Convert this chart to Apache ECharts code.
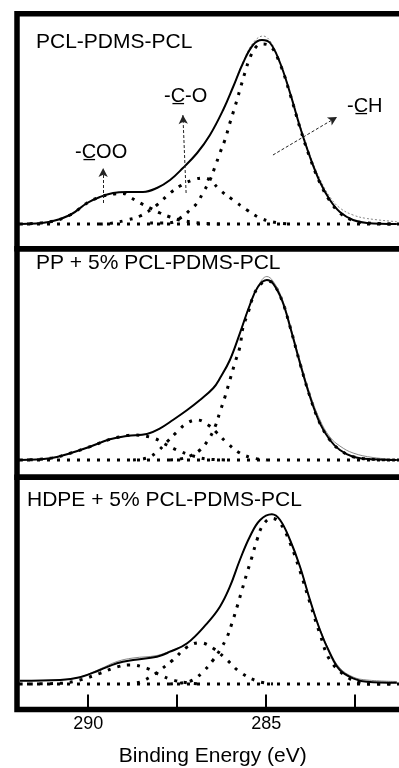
<!DOCTYPE html>
<html>
<head>
<meta charset="utf-8">
<script src="https://cdn.jsdelivr.net/npm/echarts@6/dist/echarts.min.js"></script>
<style>
html,body{margin:0;padding:0;background:#fff;}
#chart{width:399px;height:768px;}
</style>
</head>
<body>
<div id="chart"></div>
<script>
// ---- Data: [binding energy (eV), intensity (a.u.)] ----
// Panel 1: PCL-PDMS-PCL
var pclEnvelope = [[291.92,0],[291.07,2.3],[290.51,9],[290.03,21],[289.67,27],[289.30,31],[288.91,32],[288.46,32],[288.07,36],[287.70,44],[287.34,56],[286.94,71],[286.58,89],[286.21,114],[285.93,137],[285.65,161],[285.37,179],[285.12,184],[284.89,181],[284.61,161],[284.33,131],[284.05,97],[283.77,67],[283.49,42],[283.21,24],[282.93,12],[282.56,4],[282.17,1],[281.33,0]];
var pclMeasured = [[291.92,0],[291.07,2.3],[290.51,9],[290.03,21],[289.67,27],[289.30,31],[288.91,32],[288.46,32],[288.07,36],[287.70,44],[287.34,56],[286.94,71],[286.58,89],[286.21,114],[285.93,137],[285.65,162],[285.37,181],[285.09,188],[284.89,183],[284.61,162],[284.33,132],[284.05,99],[283.77,69],[283.49,45],[283.21,27],[282.93,16],[282.56,9],[282.17,5.5],[281.33,2.3]];
var pclCH = [[288.26,1],[287.70,1.3],[287.37,7],[287.14,14],[286.94,21],[286.78,31],[286.58,44],[286.44,57],[286.30,71],[286.16,84],[286.02,101],[285.88,117],[285.74,134],[285.60,151],[285.46,166],[285.31,176],[285.15,180],[284.89,178],[284.61,160],[284.33,130],[284.05,96],[283.77,66],[283.49,41],[283.21,23],[282.93,11],[282.56,3.5],[282.17,1],[281.33,0]];
var pclCO = [[289.67,0],[289.30,1],[288.91,4],[288.54,8],[288.07,19],[287.70,31],[287.37,39],[287.06,44],[286.78,46],[286.58,44],[286.30,34],[285.93,24],[285.54,14],[285.17,6],[284.81,2],[284.33,0]];
var pclCOO = [[291.92,0],[291.07,2.3],[290.51,9],[290.03,21],[289.67,27],[289.30,30],[289.02,30.5],[288.83,27],[288.54,21],[288.26,16],[287.98,11],[287.70,7],[287.42,4],[286.86,1],[286.30,0]];

// Panel 2: PP + 5% PCL-PDMS-PCL
var ppEnvelope = [[291.92,0],[291.07,1.7],[290.51,6.7],[289.95,13.3],[289.39,20.7],[288.91,24],[288.35,26],[287.98,31.7],[287.62,40],[287.22,50],[286.86,60],[286.49,71.7],[286.30,81.7],[286.02,100],[285.74,126.7],[285.46,155],[285.23,173.3],[284.98,180],[284.81,176.7],[284.56,160],[284.33,133.3],[284.05,96.7],[283.77,63.3],[283.49,36.7],[283.21,20],[282.93,10],[282.56,3.3],[282.00,0.7],[281.33,0]];
var ppMeasured = [[291.92,0],[291.07,1.7],[290.51,6.7],[289.95,13.3],[289.39,20.7],[288.91,24],[288.35,26],[287.98,31.7],[287.62,40],[287.22,50],[286.86,60],[286.49,71.7],[286.30,81.7],[286.02,100],[285.74,126.7],[285.46,155],[285.23,174],[284.98,183.5],[284.81,179],[284.56,162],[284.33,135],[284.05,99],[283.77,66],[283.49,40],[283.21,23],[282.93,14],[282.56,7],[282.00,2.5],[281.33,0.5]];
var ppCH = [[287.70,0],[287.42,1],[287.14,4],[286.86,10],[286.63,20],[286.44,33],[286.30,48],[286.16,63],[286.02,80],[285.88,97],[285.74,113],[285.65,133],[285.51,147],[285.37,163],[285.20,174],[284.98,179],[284.81,176.7],[284.56,160],[284.33,133.3],[284.05,96.7],[283.77,63.3],[283.49,36.7],[283.21,20],[282.93,10],[282.56,3.3],[282.00,0.7],[281.33,0]];
var ppCO = [[288.74,0],[288.35,2],[288.07,8],[287.79,18],[287.51,28],[287.22,37],[286.94,40],[286.63,35],[286.38,27],[286.10,17],[285.74,7],[285.37,2],[284.98,0]];
var ppCOO = [[291.92,0],[291.07,1.7],[290.51,6.7],[289.95,13.3],[289.39,20.7],[288.91,24.5],[288.74,25],[288.18,22],[287.79,15],[287.51,10],[287.14,5],[286.66,1],[286.00,0]];

// Panel 3: HDPE + 5% PCL-PDMS-PCL
var hdpeEnvelope = [[291.92,3.3],[290.79,4],[290.23,6.7],[289.67,14],[289.19,20.7],[288.74,24],[288.07,27.3],[287.70,32.3],[287.22,40.7],[286.66,60.7],[286.30,77.3],[286.02,97.3],[285.74,124],[285.46,147.3],[285.17,164],[284.84,169.7],[284.61,164],[284.33,144],[284.05,117.3],[283.77,84],[283.49,54],[283.21,30.7],[282.93,14],[282.56,5.7],[282.17,2.3],[281.33,1.3]];
var hdpeMeasured = [[291.92,3.3],[290.79,4],[290.23,7],[289.67,15],[289.19,22.5],[288.74,26],[288.07,28.5],[287.70,33],[287.22,40.7],[286.66,60.7],[286.30,77.3],[286.02,97.3],[285.74,124],[285.46,147.3],[285.17,164],[284.84,169.7],[284.61,164],[284.33,144],[284.05,117.3],[283.77,84],[283.49,55],[283.21,32],[282.93,16],[282.56,7],[282.17,4],[281.33,2.5]];
var hdpeCH = [[287.70,0],[287.34,1.3],[287.06,4],[286.78,12],[286.49,24],[286.30,34],[286.10,47],[285.96,61],[285.82,77],[285.68,94],[285.54,111],[285.40,127],[285.26,144],[285.09,159],[284.84,165.7],[284.61,161],[284.33,141],[284.05,113],[283.77,81],[283.49,50],[283.21,24],[282.73,7],[282.37,1.3],[282.00,0],[281.33,0]];
var hdpeCO = [[288.91,0],[288.54,2],[288.26,7],[287.98,14],[287.62,24],[287.22,37],[286.86,41.3],[286.49,35.7],[286.10,24],[285.74,12],[285.26,3],[284.81,0]];
var hdpeCOO = [[291.92,0],[290.79,0.7],[290.23,4],[289.67,10.7],[289.19,17],[288.83,19],[288.35,15.7],[287.98,9],[287.62,4],[287.22,1.3],[286.86,0]];

var baseline = [[292,0],[281,0]];

// Axis ticks / labels
var tickValues = [282.5, 285, 287.5, 290];
var labelValues = [285, 290];

// Panel labels
var panelNames = ['PCL-PDMS-PCL', 'PP + 5% PCL-PDMS-PCL', 'HDPE + 5% PCL-PDMS-PCL'];
// Peak assignment labels (panel 1)
var peakNames = ['-C\u0332OO', '-C\u0332-O', '-C\u0332H'];
// Annotation arrows in panel 1: [from, to] in data coords
var arrows = [
  [[289.58,21],[289.58,56]],
  [[287.25,31],[287.34,109]],
  [[284.81,69],[283.01,107]]
];

var FONT = "'Liberation Sans', Arial, Helvetica, sans-serif";
var chart = echarts.init(document.getElementById('chart'), null, {renderer:'canvas'});

var grids = [
  {left:17, right:-9.6, top:13.8, height:234.9},
  {left:17, right:-9.6, top:248.7, height:228.6},
  {left:17, right:-9.6, top:477.3, height:232.2}
];
grids.forEach(function(g){ g.show = true; g.borderColor = '#000'; g.borderWidth = 5.5; g.backgroundColor = 'transparent'; g.containLabel = false; g.outerBoundsMode = 'none'; });

var yRanges = [[-24.7,210.2],[-17.3,211.3],[-25.5,206.7]];

var xAxes = [0,1,2].map(function(i){
  var ax = {type:'value', gridIndex:i, inverse:true, min:281, max:292, show: i===2, position:'bottom',
    axisLine:{show:false, onZero:false}, splitLine:{show:false},
    axisTick:{show:true, inside:true, length:15, customValues:tickValues, lineStyle:{color:'#000', width:2}},
    axisLabel:{show:true, customValues:labelValues, margin:6, fontSize:18, color:'#000', fontFamily:FONT}
  };
  if (i===2) {
    ax.name = 'Binding Energy (eV)';
    ax.nameLocation = 'middle';
    ax.nameGap = 36;
    ax.nameTextStyle = {fontSize:21, color:'#000', fontFamily:FONT};
  }
  return ax;
});
var yAxes = [0,1,2].map(function(i){
  return {type:'value', gridIndex:i, min:yRanges[i][0], max:yRanges[i][1], show:false, splitLine:{show:false}};
});

var dotted = {type:[3,7], width:3, color:'#000', cap:'butt'};
function line(data, idx, style, z){
  return {type:'line', xAxisIndex:idx, yAxisIndex:idx, data:data, symbol:'none', smooth:0.4,
    lineStyle:style, z:z||2, silent:true};
}

var panels = [
  [pclEnvelope, pclMeasured, pclCH, pclCO, pclCOO],
  [ppEnvelope, ppMeasured, ppCH, ppCO, ppCOO],
  [hdpeEnvelope, hdpeMeasured, hdpeCH, hdpeCO, hdpeCOO]
];
var series = [];
panels.forEach(function(p, i){
  var base = {type:'line', xAxisIndex:i, yAxisIndex:i, data:baseline, symbol:'none',
    lineStyle:dotted, z:2, silent:true};
  if (i===0) {
    base.markLine = {silent:true, symbol:['none','arrow'], symbolSize:[7,9], animation:false,
      label:{show:false}, lineStyle:{type:[3,2], width:1, color:'#222'},
      data: arrows.map(function(a){ return [{coord:a[0]},{coord:a[1]}]; })};
  }
  series.push(base);
  series.push(line(p[4], i, dotted, 2));
  series.push(line(p[3], i, dotted, 2));
  series.push(line(p[2], i, dotted, 2));
  series.push(line(p[1], i, {color:'#888', width:1, type: i===0 ? [2,2] : 'solid'}, 3));
  series.push(line(p[0], i, {color:'#000', width:2}, 4));
});

var titleStyle = {fontSize:21, fontWeight:'normal', color:'#000', fontFamily:FONT, lineHeight:21};
var peakStyle = {fontSize:20, fontWeight:'normal', color:'#000', fontFamily:FONT, lineHeight:20};
var titles = [
  {text:panelNames[0], left:36, top:31.5, padding:0, textStyle:titleStyle},
  {text:panelNames[1], left:36, top:253, padding:0, textStyle:titleStyle},
  {text:panelNames[2], left:27, top:489.5, padding:0, textStyle:titleStyle},
  {text:peakNames[0], left:75, top:142, padding:0, textStyle:peakStyle},
  {text:peakNames[1], left:164, top:86, padding:0, textStyle:peakStyle},
  {text:peakNames[2], left:347, top:96, padding:0, textStyle:peakStyle}
];

chart.setOption({
  animation:false,
  backgroundColor:'#fff',
  textStyle:{fontFamily:FONT},
  title:titles,
  grid:grids,
  xAxis:xAxes,
  yAxis:yAxes,
  series:series
});
</script>
</body>
</html>
